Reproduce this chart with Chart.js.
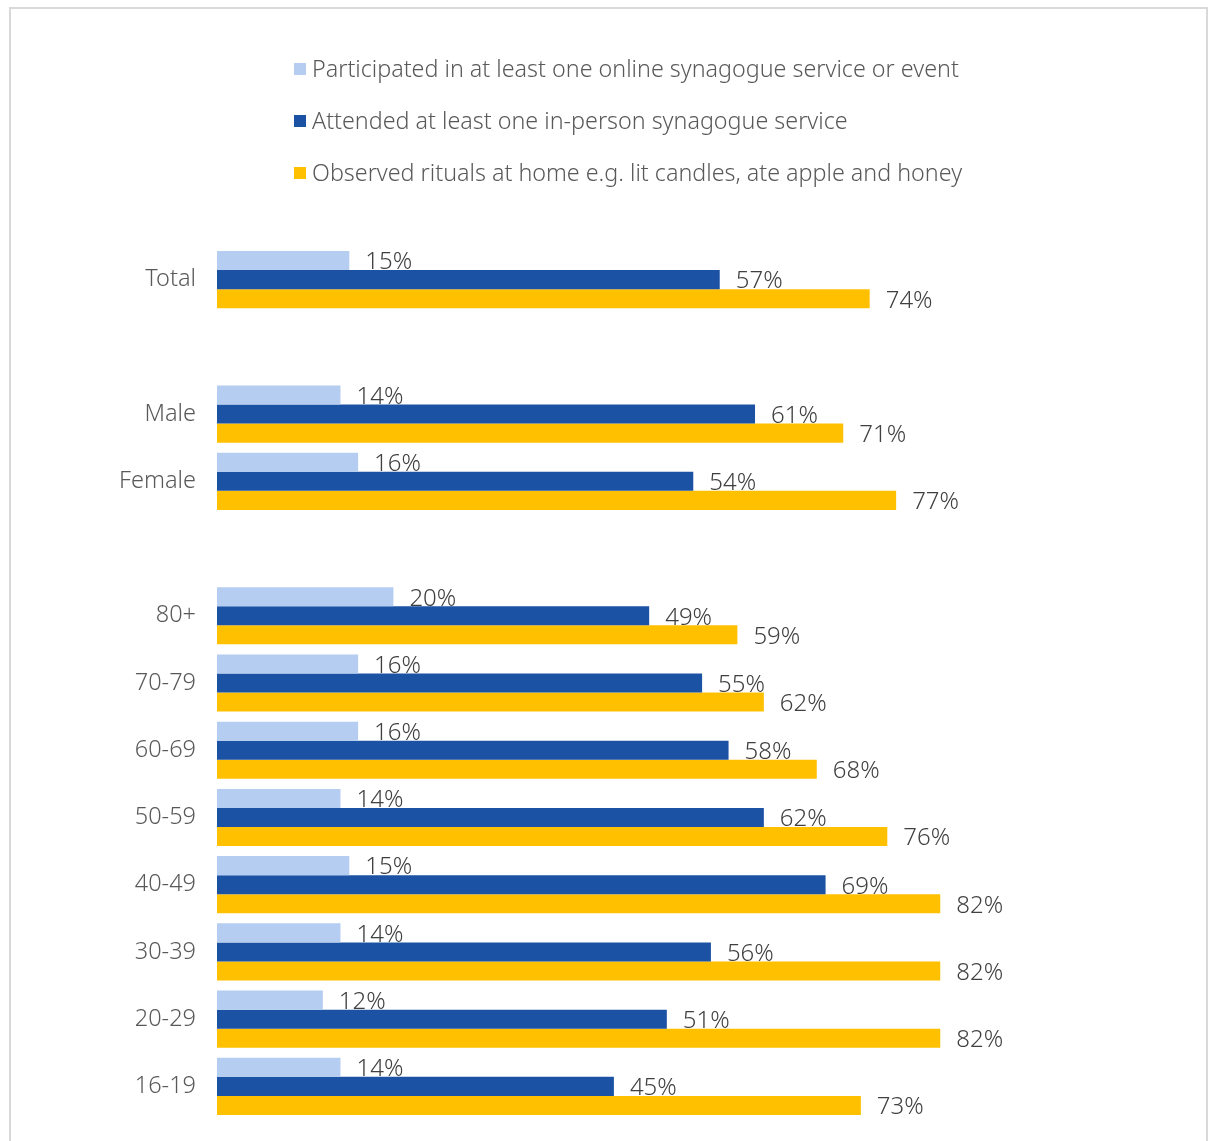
<!DOCTYPE html>
<html>
<head>
<meta charset="utf-8">
<script src="https://cdn.jsdelivr.net/npm/chart.js@4/dist/chart.umd.min.js"></script>
<style>
  body { margin: 0; background: #fff; overflow: hidden; }
  #frame { position: absolute; left: 9px; top: 7px; width: 1199px; height: 1134px; border: 2px solid #d9d9d9; border-bottom: none; box-sizing: border-box; }
  #myChart { position: absolute; left: 0; top: 0; }
</style>
</head>
<body>
<div id="frame"></div>
<canvas id="myChart" width="1208" height="1141"></canvas>
<script>
// groups, blank entries are spacer rows
var categories = ["Total", "", "Male", "Female", "", "80+", "70-79", "60-69", "50-59", "40-49", "30-39", "20-29", "16-19"]
var online   = [15, null, 14, 16, null, 20, 16, 16, 14, 15, 14, 12, 14]
var inPerson = [57, null, 61, 54, null, 49, 55, 58, 62, 69, 56, 51, 45]
var rituals  = [74, null, 71, 77, null, 59, 62, 68, 76, 82, 82, 82, 73]
var seriesNames = [
  "Participated in at least one online synagogue service or event",
  "Attended at least one in-person synagogue service",
  "Observed rituals at home e.g. lit candles, ate apple and honey"
]

const COLORS = {
  light: '#b4cdf0',
  dark: '#1c52a4',
  yellow: '#ffc000'
}
const FONT = "'Noto Sans', sans-serif"

// percent labels to the right of each bar
const barLabels = {
  id: 'barLabels',
  afterDatasetsDraw(chart) {
    const ctx = chart.ctx
    ctx.save()
    ctx.font = '300 24px ' + FONT
    ctx.fillStyle = '#404040'
    ctx.textBaseline = 'middle'
    ctx.textAlign = 'left'
    chart.data.datasets.forEach((ds, i) => {
      const meta = chart.getDatasetMeta(i)
      meta.data.forEach((bar, j) => {
        if (ds.data[j] == null) return
        ctx.fillText(ds.data[j] + '%', bar.x + 16, bar.y + 2)
      })
    })
    ctx.restore()
  }
}

// stacked legend, one series per line
const stackedLegend = {
  id: 'stackedLegend',
  afterDraw(chart) {
    const ctx = chart.ctx
    ctx.save()
    ctx.font = '300 23.3px ' + FONT
    ctx.textBaseline = 'middle'
    chart.data.datasets.forEach((ds, i) => {
      const y = 69 + i * 52
      ctx.fillStyle = ds.backgroundColor
      ctx.fillRect(294, y - 6, 12, 12)
      ctx.fillStyle = '#595959'
      ctx.fillText(ds.label, 312, y + 1)
    })
    ctx.restore()
  }
}

const data = {
  labels: categories,
  datasets: [
    { label: seriesNames[0], data: online, backgroundColor: COLORS.light },
    { label: seriesNames[1], data: inPerson, backgroundColor: COLORS.dark },
    { label: seriesNames[2], data: rituals, backgroundColor: COLORS.yellow }
  ]
}

const config = {
  type: 'bar',
  data: data,
  options: {
    indexAxis: 'y',
    responsive: false,
    animation: false,
    barPercentage: 1,
    categoryPercentage: 0.85,
    layout: { padding: { top: 246, right: 109, bottom: 21, left: 0 } },
    scales: {
      x: { display: false, min: 0, max: 100 },
      y: {
        grid: { display: false, drawTicks: false },
        border: { display: false },
        ticks: { color: '#595959', font: { family: FONT, size: 23.5, weight: 300 }, padding: 21 },
        afterFit(scale) {
          scale.width = 217
          scale.paddingTop = 0
          scale.paddingBottom = 0
        }
      }
    },
    plugins: {
      legend: { display: false },
      tooltip: { enabled: false }
    }
  },
  plugins: [barLabels, stackedLegend]
}

const myChart = new Chart(document.getElementById('myChart'), config)
</script>
</body>
</html>
